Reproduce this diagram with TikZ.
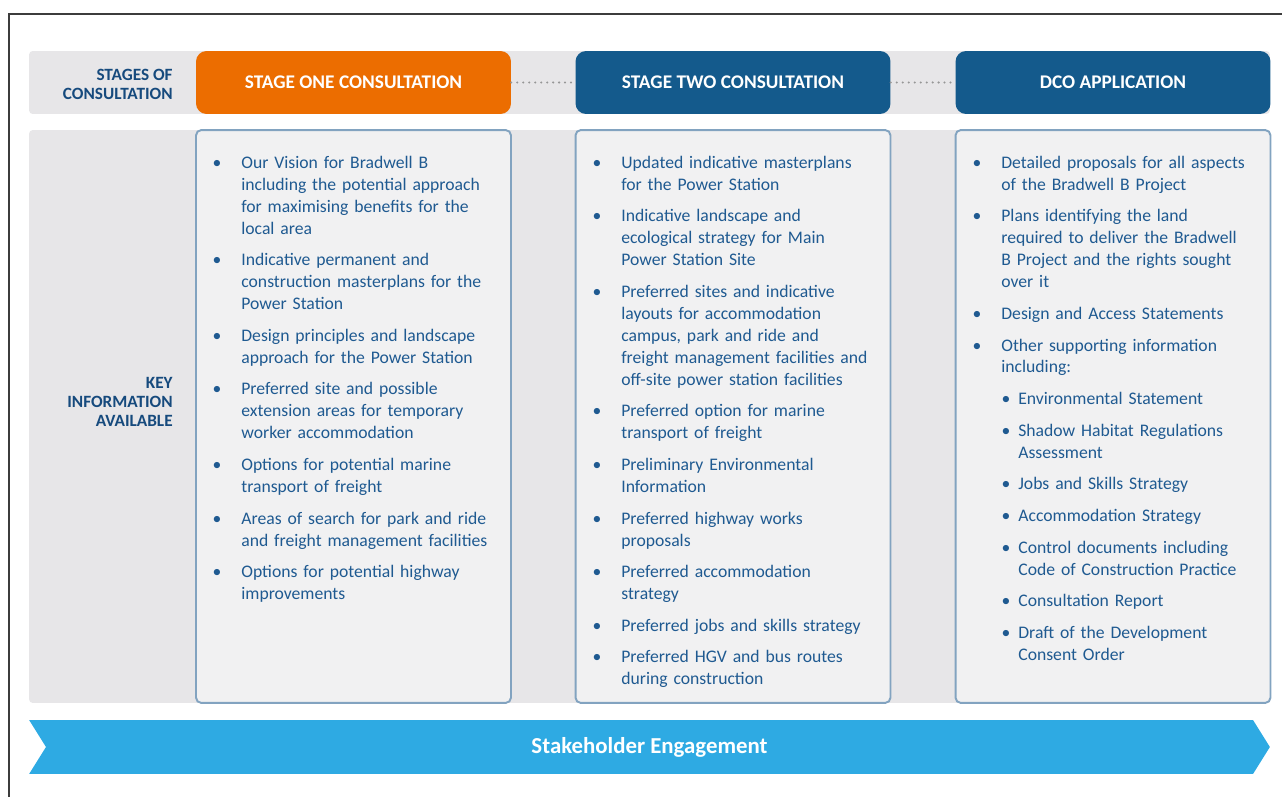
\documentclass[tikz,border=0pt]{standalone}
\usepackage{fontspec}
\setmainfont{Carlito}
\usepackage{enumitem}
\usetikzlibrary{shapes.symbols,positioning}
\definecolor{framegray}{RGB}{60,60,60}
\definecolor{bandgray}{RGB}{231,230,232}
\definecolor{stageorange}{RGB}{236,109,0}
\definecolor{stageblue}{RGB}{20,90,140}
\definecolor{boxfill}{RGB}{241,241,242}
\definecolor{boxedge}{RGB}{130,163,192}
\definecolor{textblue}{RGB}{31,90,145}
\definecolor{labelblue}{RGB}{22,74,125}
\definecolor{dotgray}{RGB}{150,150,150}
\definecolor{engageblue}{RGB}{46,170,227}

\newlist{infolist}{itemize}{2}
\setlist[infolist,1]{label=\textbullet, leftmargin=0.5cm, labelsep=0.4cm, topsep=0pt, partopsep=0pt, itemsep=5.5pt, parsep=0pt}
\setlist[infolist,2]{label=\textbullet, leftmargin=0.34cm, labelsep=0.16cm, topsep=5.5pt, partopsep=0pt, itemsep=5.5pt, parsep=0pt}

\begin{document}
\begin{tikzpicture}[x=0.02cm, y=-0.02cm,
    band/.style={rectangle, rounded corners=2pt, fill=bandgray, minimum width=24.82cm},
    stage/.style={rectangle, rounded corners=6pt, text=white, font=\fontsize{11}{13}\selectfont\bfseries, minimum width=6.3cm, minimum height=1.26cm},
    infobox/.style={rectangle, rounded corners=3pt, draw=boxedge, line width=1.1pt, fill=boxfill, minimum width=6.3cm, minimum height=11.46cm},
    rowlabel/.style={anchor=east, inner sep=0pt, align=right, text=labelblue, font=\fontsize{9.8}{10.8}\selectfont\bfseries},
    info/.style={anchor=north west, inner sep=0pt, text width=5.9cm, align=left, text=textblue, font=\fontsize{10.05}{12.5}\selectfont},
    dots/.style={dotgray, line width=1.3pt, line cap=round, dash pattern=on 0pt off 3.4pt}
]
\useasboundingbox (0,0) rectangle (1282,797);

% Frame
\draw[framegray, line width=0.8pt] (8,14) -- (1282,14);
\draw[framegray, line width=0.8pt] (9,14) -- (9,797);

% Bands
\node[band, minimum height=1.26cm] (stageband) at (649.5,82.5) {};
\node[band, minimum height=11.46cm] (infoband) at (649.5,416.5) {};

% Row labels
\node[rowlabel] (stagelabel) at (173,84) {STAGES OF\\CONSULTATION};
\node[rowlabel] (infolabel) at (173,402) {KEY\\INFORMATION\\AVAILABLE};

% Stages
\node[stage, fill=stageorange] (s1) at (353.5,82.5) {STAGE ONE CONSULTATION};
\node[stage, fill=stageblue] (s2) at (733,82.5) {STAGE TWO CONSULTATION};
\node[stage, fill=stageblue] (s3) at (1113,82.5) {DCO APPLICATION};

\draw[dots] (s1) -- (s2);
\draw[dots] (s2) -- (s3);

% Information boxes
\node[infobox] (b1) at (353.5,416.5) {};
\node[infobox] (b2) at (733,416.5) {};
\node[infobox] (b3) at (1113,416.5) {};

\node[info] (t1) at (216,146) {\begin{infolist}
\item Our Vision for Bradwell B\\including the potential approach\\for maximising benefits for the\\local area
\item Indicative permanent and\\construction masterplans for the\\Power Station
\item Design principles and landscape\\approach for the Power Station
\item Preferred site and possible\\extension areas for temporary\\worker accommodation
\item Options for potential marine\\transport of freight
\item Areas of search for park and ride\\and freight management facilities
\item Options for potential highway\\improvements
\end{infolist}};

\node[info] (t2) at (596,146) {\begin{infolist}
\item Updated indicative masterplans\\for the Power Station
\item Indicative landscape and\\ecological strategy for Main\\Power Station Site
\item Preferred sites and indicative\\layouts for accommodation\\campus, park and ride and\\freight management facilities and\\off-site power station facilities
\item Preferred option for marine\\transport of freight
\item Preliminary Environmental\\Information
\item Preferred highway works\\proposals
\item Preferred accommodation\\strategy
\item Preferred jobs and skills strategy
\item Preferred HGV and bus routes\\during construction
\end{infolist}};

\node[info] (t3) at (976,146) {\begin{infolist}
\item Detailed proposals for all aspects\\of the Bradwell B Project
\item Plans identifying the land\\required to deliver the Bradwell\\B Project and the rights sought\\over it
\item Design and Access Statements
\item Other supporting information\\including:
  \begin{infolist}
  \item Environmental Statement
  \item Shadow Habitat Regulations\\Assessment
  \item Jobs and Skills Strategy
  \item Accommodation Strategy
  \item Control documents including\\Code of Construction Practice
  \item Consultation Report
  \item Draft of the Development\\Consent Order
  \end{infolist}
\end{infolist}};

% Engagement arrow
\node[signal, signal from=west, signal to=east, signal pointer angle=116, fill=engageblue, minimum width=24.82cm, minimum height=1.08cm, inner sep=0pt, text=white, font=\fontsize{13}{15}\selectfont\bfseries] (engage) at (649.5,747) {\raisebox{-1.5pt}{Stakeholder Engagement}};

\end{tikzpicture}
\end{document}
